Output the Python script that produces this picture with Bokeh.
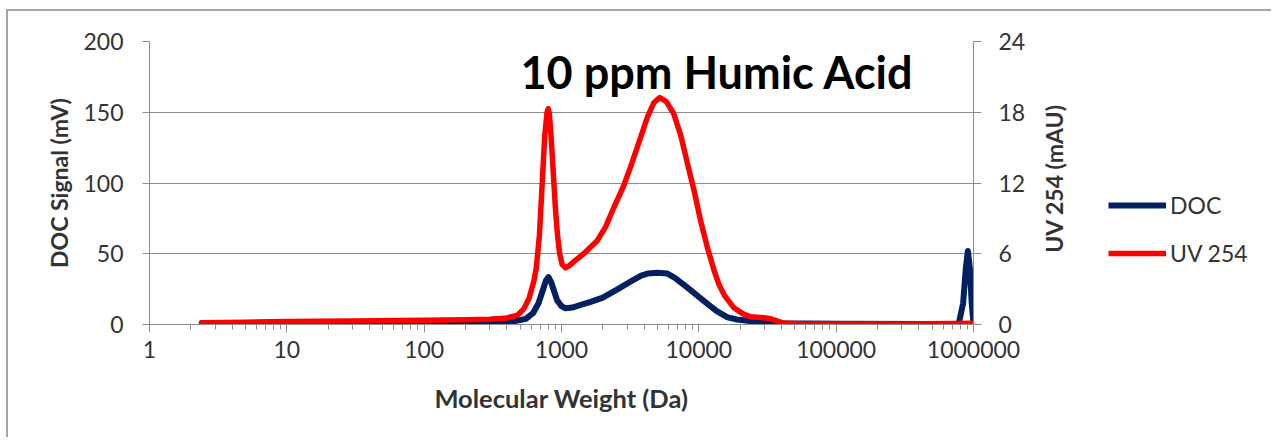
import math
from bokeh.plotting import figure
from bokeh.layouts import row
from bokeh.models import (Range1d, LinearAxis, FixedTicker, NumeralTickFormatter,
                          Legend, LegendItem, Label)
from bokeh.embed import file_html
from bokeh.resources import INLINE

# ---- data ----
doc_mw = [2.4, 10, 100, 300, 450, 550, 620, 680, 730, 770, 805, 840, 880, 930, 1000,
          1070, 1200, 1400, 1630, 2000, 2570, 3200, 3800, 4230, 5000, 5900, 6700,
          8270, 10000, 11500, 13500, 16200, 19000, 22600, 30000, 40000, 100000,
          500000, 780000, 840000, 880000, 910000, 940000, 970000, 1000000]
doc_mv = [1.0, 1.2, 1.5, 1.8, 2.2, 4, 8, 15, 24, 31, 33.5, 30, 24, 17, 13,
          11.5, 12, 14, 16, 19, 25, 30.5, 34.5, 36, 36.5, 36, 33,
          26, 19.5, 14.8, 9.5, 5, 3.5, 2.6, 1.3, 0.8, 0.5,
          0.4, 0.5, 15, 40, 52, 40, 15, 1]

uv_mw = [2.4, 5, 10, 30, 100, 200, 300, 400, 480, 530, 580, 630, 655, 690, 720, 755,
         785, 800, 815, 845, 875, 905, 935, 970, 1010, 1070, 1130, 1250, 1450, 1820,
         2100, 2400, 2800, 3170, 3700, 4230, 4700, 5190, 5800, 6560, 7400, 8270,
         9300, 10300, 11500, 12900, 14000, 15500, 17900, 21000, 23900, 28000, 33000,
         37000, 42000, 60000, 100000, 300000, 1000000]
uv_mau = [0.15, 0.2, 0.25, 0.3, 0.35, 0.4, 0.45, 0.55, 0.8, 1.3, 2.2, 3.7, 4.8, 7.5, 11.5, 16,
          18.0, 18.3, 17.9, 15.5, 12.5, 9.7, 7.6, 6.0, 5.1, 4.8, 4.95, 5.4, 6.0, 7.1,
          8.3, 9.9, 11.6, 13.3, 15.6, 17.6, 18.8, 19.25, 18.9, 17.9, 16.0, 13.65,
          11.2, 8.8, 6.6, 4.6, 3.4, 2.4, 1.45, 0.9, 0.65, 0.6, 0.5,
          0.3, 0.1, 0.05, 0.05, 0.05, 0.1]

x_major = [1, 10, 100, 1000, 10000, 100000, 1000000]
x_minor = [m * d for d in [1, 10, 100, 1000, 10000, 100000] for m in range(2, 10)]
doc_ticks = [0, 50, 100, 150, 200]
uv_ticks = [0, 6, 12, 18, 24]
series_names = ["DOC", "UV 254"]

FONT = "Lato"
TXT = "#333333"
GRID = "#8c8c8c"
BORDER = "2px solid #a6a6a6"
NAVY = "#002060"
RED = "#FF0000"

p = figure(width=1025, height=428, x_axis_type="log",
           x_range=Range1d(1, 1000000), y_range=Range1d(0, 200),
           output_backend="svg", toolbar_location=None,
           min_border_left=141, min_border_right=60,
           min_border_top=30, min_border_bottom=115)
p.styles = {"border-left": BORDER, "border-top": BORDER,
            "margin-left": "6px", "margin-top": "9px"}
p.extra_y_ranges = {"uv": Range1d(0, 24)}
p.outline_line_color = None
p.xgrid.grid_line_color = None
p.ygrid.grid_line_color = GRID
p.ygrid.ticker = FixedTicker(ticks=doc_ticks)

# x axis
xa = p.xaxis[0]
xa.ticker = FixedTicker(ticks=x_major, minor_ticks=x_minor)
xa.formatter = NumeralTickFormatter(format="0")
xa.axis_line_color = GRID
xa.major_tick_line_color = GRID
xa.minor_tick_line_color = GRID
xa.major_tick_in = 0
xa.major_tick_out = 8
xa.minor_tick_in = 0
xa.minor_tick_out = 5
xa.major_label_text_font = FONT
xa.major_label_text_font_size = "23px"
xa.major_label_text_color = TXT
xa.major_label_standoff = 8
xa.axis_label = "Molecular Weight (Da)"
xa.axis_label_text_font = FONT
xa.axis_label_text_font_style = "bold"
xa.axis_label_text_font_size = "25.5px"
xa.axis_label_text_color = TXT
xa.axis_label_standoff = 22

# left axis
ya = p.yaxis[0]
ya.ticker = FixedTicker(ticks=doc_ticks)
ya.axis_line_color = GRID
ya.major_tick_line_color = GRID
ya.minor_tick_line_color = None
ya.major_tick_in = 0
ya.major_tick_out = 7
ya.major_label_text_font = FONT
ya.major_label_text_font_size = "23px"
ya.major_label_text_color = TXT
ya.major_label_standoff = 19
ya.axis_label = "DOC Signal (mV)"
ya.axis_label_text_font = FONT
ya.axis_label_text_font_style = "bold"
ya.axis_label_text_font_size = "23px"
ya.axis_label_text_color = TXT
ya.axis_label_standoff = 7

# right axis (its title is drawn in the side panel so it reads bottom-to-top, centred)
ra = LinearAxis(y_range_name="uv", ticker=FixedTicker(ticks=uv_ticks))
ra.axis_line_color = GRID
ra.major_tick_line_color = GRID
ra.minor_tick_line_color = None
ra.major_tick_in = 0
ra.major_tick_out = 8
ra.major_label_text_font = FONT
ra.major_label_text_font_size = "23px"
ra.major_label_text_color = TXT
ra.major_label_standoff = 17
p.add_layout(ra, "right")

p.line(doc_mw, doc_mv, line_color=NAVY, line_width=6,
       line_join="round", line_cap="round")
p.line(uv_mw, uv_mau, y_range_name="uv", line_color=RED, line_width=5.5,
       line_join="round", line_cap="round")

title = Label(x=371, y=253, x_units="screen", y_units="screen",
              text="10 ppm Humic Acid", text_font=FONT, text_font_style="bold",
              text_font_size="45px", text_color="#000000",
              text_baseline="alphabetic", text_align="left")
p.add_layout(title)

# side panel: right-axis title and legend
pl = figure(width=240, height=428, x_range=Range1d(0, 1), y_range=Range1d(0, 1),
            output_backend="svg", toolbar_location=None,
            x_axis_location=None, y_axis_location=None,
            min_border=0)
pl.styles = {"border-top": BORDER, "margin-top": "9px"}
pl.outline_line_color = None
pl.xgrid.grid_line_color = None
pl.ygrid.grid_line_color = None
# same series, drawn outside this panel's view, only to feed the legend glyphs
lg_doc = pl.line(doc_mw, doc_mv, line_color=NAVY, line_width=6)
lg_uv = pl.line(uv_mw, uv_mau, line_color=RED, line_width=5.5)

right_title = Label(x=22, y=146, x_units="screen", y_units="screen",
                    text="UV 254 (mAU)", angle=math.pi / 2,
                    text_font=FONT, text_font_style="bold", text_font_size="23px",
                    text_color=TXT, text_align="center", text_baseline="middle")
pl.add_layout(right_title)

legend = Legend(items=[LegendItem(label=series_names[0], renderers=[lg_doc]),
                       LegendItem(label=series_names[1], renderers=[lg_uv])],
                location=(77, 57), orientation="vertical",
                glyph_width=58, glyph_height=20, label_height=20,
                spacing=20, padding=0, margin=0, label_standoff=4,
                label_text_font=FONT, label_text_font_size="23px",
                label_text_color=TXT,
                border_line_color=None, background_fill_alpha=0)
pl.add_layout(legend, "center")

open("out.html", "w").write(file_html(row(p, pl), INLINE))
